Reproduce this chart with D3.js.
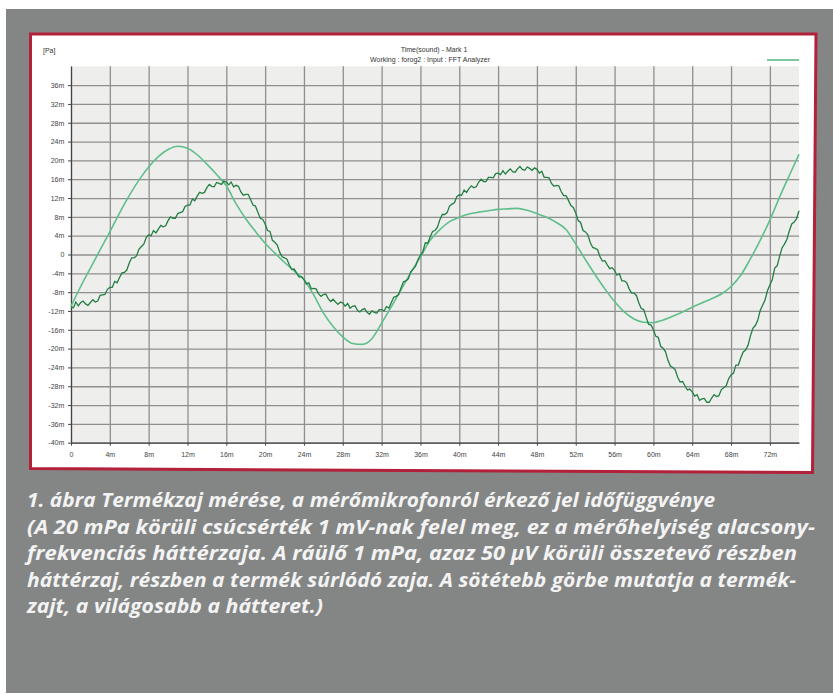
<!DOCTYPE html>
<html><head><meta charset="utf-8">
<script src="https://cdn.jsdelivr.net/npm/d3@7"></script>
<style>html,body{margin:0;padding:0;background:#fff;}svg{display:block;}</style>
</head><body>
<svg id="c" width="833" height="695"></svg>
<script>
// ---- data (time in ms, pressure in mPa) ----
const lightT = d3.range(0, 76, 1);
const lightV = [-11.0,-6.8,-2.9,1.0,4.8,8.8,12.5,15.8,18.6,20.8,22.3,23.0,22.6,21.2,19.2,17.0,14.6,10.8,7.6,4.9,2.4,0.3,-1.7,-3.5,-5.3,-8.6,-12.4,-15.3,-17.5,-18.9,-19.1,-17.9,-14.6,-11.1,-7.5,-3.9,-0.5,3.0,5.3,7.0,7.9,8.6,9.0,9.3,9.6,9.7,9.8,9.4,8.7,7.9,6.8,5.3,2.2,-1.1,-4.3,-7.3,-10.0,-12.2,-13.7,-14.4,-14.5,-13.9,-13.1,-12.2,-11.2,-10.3,-9.4,-8.4,-6.8,-4.4,-0.9,3.0,7.3,12.2,16.8,21.3];
const darkT = d3.range(0, 75.1, 0.25);
const darkV = [
-11.2,-11.3,-10.1,-10.9,-10.2,-9.9,-10.5,-10.8,-10.2,-9.6,-10.1,-9.9,-8.7,-8.6,-8.5,-7.4,
-7.0,-7.0,-5.7,-6.0,-4.9,-3.9,-3.8,-3.3,-1.8,-0.7,-0.7,-0.3,1.1,1.7,2.2,3.6,
4.2,4.0,5.1,4.6,5.4,6.2,5.9,6.1,7.2,8.0,7.7,7.7,8.7,8.9,9.1,10.2,
10.5,10.5,11.8,11.4,12.4,13.2,13.0,13.2,14.2,14.9,14.5,14.4,15.3,15.1,14.9,15.6,
15.4,14.8,15.4,14.4,14.7,14.5,13.3,12.6,12.8,12.8,11.7,10.5,10.3,9.0,7.7,7.5,
6.5,5.1,4.9,3.0,2.6,2.0,0.5,-0.5,-0.7,-1.0,-2.3,-3.2,-3.1,-4.0,-4.8,-4.7,
-5.3,-6.3,-6.0,-7.3,-7.2,-7.3,-8.3,-8.9,-8.5,-8.4,-9.4,-10.0,-9.5,-10.1,-10.6,-10.1,
-10.3,-11.0,-10.4,-11.4,-11.0,-10.9,-11.8,-12.2,-11.7,-11.5,-12.3,-12.7,-12.0,-12.3,-12.5,-11.7,
-11.7,-12.0,-11.1,-11.4,-10.2,-9.1,-8.9,-8.5,-7.1,-5.8,-5.6,-5.2,-3.7,-3.1,-2.5,-1.0,
-0.2,0.6,2.5,2.4,3.7,4.9,5.1,5.8,7.4,8.5,8.5,8.9,10.3,10.7,11.0,12.3,
12.7,12.6,13.7,13.2,14.0,14.6,14.2,14.4,15.4,16.0,15.5,15.5,16.4,16.4,16.3,17.2,
17.3,17.0,17.8,17.1,17.7,18.2,17.6,17.5,18.2,18.7,18.1,17.9,18.6,18.3,17.9,18.4,
18.1,17.3,17.7,16.4,16.4,16.3,15.1,14.5,14.7,14.6,13.4,12.5,12.5,11.5,10.4,10.0,
8.8,7.2,6.8,5.1,4.8,4.2,2.5,1.5,1.3,1.0,-0.5,-1.4,-1.3,-2.2,-3.0,-2.8,
-3.4,-4.4,-4.1,-5.6,-5.6,-6.0,-7.3,-8.2,-8.2,-8.7,-10.3,-11.5,-11.7,-13.3,-14.8,-15.0,
-16.0,-17.4,-17.6,-19.5,-19.9,-20.7,-22.5,-23.7,-24.0,-24.5,-26.1,-27.1,-27.0,-27.9,-28.8,-28.6,
-29.2,-30.1,-29.8,-31.0,-30.7,-30.6,-31.4,-31.4,-30.5,-29.8,-30.2,-30.0,-28.7,-28.3,-27.9,-26.4,
-25.6,-25.2,-23.5,-23.5,-22.0,-20.7,-20.3,-19.3,-17.3,-15.7,-15.1,-14.0,-11.9,-10.8,-9.7,-7.7,
-6.5,-5.3,-2.9,-2.4,-0.4,1.4,2.2,3.2,5.0,6.5,6.9,7.6,9.3];
const xTicks = d3.range(0, 73, 4);
const yTicks = d3.range(-40, 37, 4);
const titleLines = ["Time(sound) - Mark 1", "Working : forog2 : Input : FFT Analyzer"];
const unitLabel = "[Pa]";
const captionLines = [
  "1. ábra Termékzaj mérése, a mérőmikrofonról érkező jel időfüggvénye",
  "(A 20 mPa körüli csúcsérték 1 mV-nak felel meg, ez a mérőhelyiség alacsony-",
  "frekvenciás háttérzaja. A ráülő 1 mPa, azaz 50 μV körüli összetevő részben",
  "háttérzaj, részben a termék súrlódó zaja. A sötétebb görbe mutatja a termék-",
  "zajt, a világosabb a hátteret.)"
];
const captionWidths = [688, 788, 770, 769, 296];

// ---- drawing ----
const svg = d3.select("#c");
svg.append("rect").attr("x",6).attr("y",9).attr("width",827).attr("height",684).attr("fill","#848685");
svg.append("path").attr("d","M30.5,34 L816,34 L812.5,472.5 L30.5,468.5 Z")
  .attr("fill","#fff").attr("stroke","#b3203a").attr("stroke-width",3);

const L = 71, R = 799, T = 66.3, B = 442.7;
const x = d3.scaleLinear().domain([0,75]).range([L,R]);
const y = d3.scaleLinear().domain([-40,40]).range([B,T]);

svg.append("rect").attr("x",L).attr("y",T).attr("width",R-L).attr("height",B-T).attr("fill","#eeeeed");

const fmt = d => d===0 ? "0" : d+"m";
svg.append("g").attr("transform",`translate(0,${B})`)
  .call(d3.axisBottom(x).tickValues(xTicks).tickSize(-(B-T)).tickFormat(""))
  .call(g=>g.select(".domain").remove())
  .call(g=>g.selectAll("line").attr("stroke","#8f8f8f").attr("stroke-width",1.3));
svg.append("g").attr("transform",`translate(${L},0)`)
  .call(d3.axisLeft(y).tickValues(yTicks).tickSize(-(R-L)).tickFormat(""))
  .call(g=>g.select(".domain").remove())
  .call(g=>g.selectAll("line").attr("stroke","#8f8f8f").attr("stroke-width",1.3));
const ax = svg.append("g").attr("transform",`translate(0,${B})`)
  .call(d3.axisBottom(x).tickValues(xTicks).tickSize(3).tickSizeOuter(0).tickFormat(fmt));
const ay = svg.append("g").attr("transform",`translate(${L},0)`)
  .call(d3.axisLeft(y).tickValues(yTicks).tickSize(3).tickSizeOuter(0).tickFormat(fmt));
[ax,ay].forEach(g=>{
  g.select(".domain").attr("stroke","#444").attr("stroke-width",1.2);
  g.selectAll("line").attr("stroke","#444");
  g.selectAll("text").attr("fill","#444").style("font-family","Liberation Sans, Arial, sans-serif").style("font-size","7px");
});
ax.selectAll("text").attr("dy","1.2em");
ay.selectAll("text").attr("dx","-0.1em");

const lineGen = d3.line().x(d=>x(d[0])).y(d=>y(d[1]));
svg.append("path").datum(lightT.map((t,i)=>[t,lightV[i]]))
  .attr("d", lineGen.curve(d3.curveMonotoneX)).attr("fill","none").attr("stroke","#5fbf8b").attr("stroke-width",1.6);
svg.append("path").datum(darkT.map((t,i)=>[t,darkV[i]]))
  .attr("d", d3.line().x(d=>x(d[0])).y(d=>y(d[1]))).attr("fill","none").attr("stroke","#227f41").attr("stroke-width",1.3);

const tf = "Liberation Sans, Arial, sans-serif";
svg.append("text").attr("x",434).attr("y",52).attr("text-anchor","middle").attr("font-family",tf).attr("font-size",7).attr("fill","#333").text(titleLines[0]);
svg.append("text").attr("x",430).attr("y",62).attr("text-anchor","middle").attr("font-family",tf).attr("font-size",7).attr("fill","#333").text(titleLines[1]);
svg.append("text").attr("x",43).attr("y",53).attr("font-family",tf).attr("font-size",7).attr("fill","#333").text(unitLabel);
svg.append("line").attr("x1",767).attr("x2",799).attr("y1",60).attr("y2",60).attr("stroke","#7cc99c").attr("stroke-width",2);

captionLines.forEach((s,i)=>{
  svg.append("text").attr("x",27).attr("y",507+i*26.5)
    .attr("font-family","Open Sans, sans-serif").attr("font-style","italic").attr("font-weight",700)
    .attr("font-size",19).attr("fill","#f3f3f3")
    .attr("textLength",captionWidths[i]).attr("lengthAdjust","spacingAndGlyphs").text(s);
});
</script>
</body></html>
